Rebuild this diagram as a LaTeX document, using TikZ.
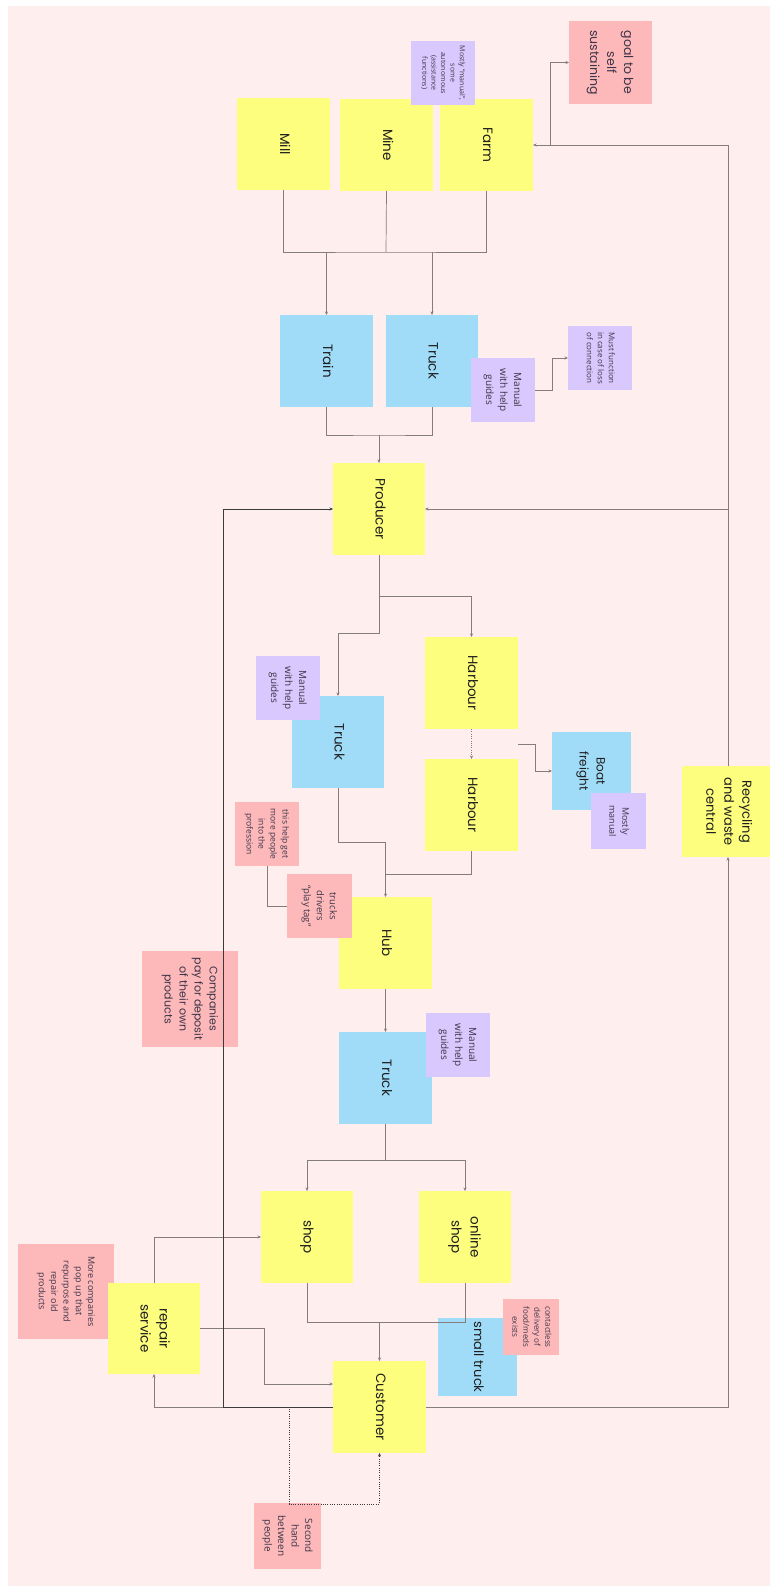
\documentclass[tikz,border=0pt]{standalone}
\usepackage{fontspec}
\setmainfont{Poppins}
\newfontfamily\notefont{Open Sans}
\usetikzlibrary{arrows.meta,calc}
\definecolor{bg}{HTML}{FEEEEE}
\definecolor{yel}{HTML}{FDFD7E}
\definecolor{blu}{HTML}{A0DCF8}
\definecolor{pnk}{HTML}{FDB9BA}
\definecolor{prp}{HTML}{D9C8FD}
\definecolor{lnc}{HTML}{857C7C}
\definecolor{dk}{HTML}{3A3A3A}
\definecolor{txt}{HTML}{1E1E1E}
\definecolor{ntxt}{HTML}{3C3448}
\newcommand{\rt}[3]{\rotatebox[origin=c]{-90}{\fontsize{#1}{#2}\selectfont\begin{tabular}{@{}c@{}}#3\end{tabular}}}
\begin{document}
\begin{tikzpicture}[x=1pt,y=-1pt,
  sticky/.style={inner sep=0pt,outer sep=0pt,text=txt},
  sz/.style 2 args={minimum width=#1pt,minimum height=#2pt},
  ybox/.style={sticky,fill=yel,sz={93}{92}},
  bbox/.style={sticky,fill=blu,sz={93}{92}},
  pnote/.style={sticky,fill=pnk,text=ntxt,font=\notefont},
  vnote/.style={sticky,fill=prp,text=ntxt,font=\notefont},
  ln/.style={draw=lnc,line width=0.7pt},
  arr/.style={ln,-{Stealth[length=3.5pt,width=3pt]}},
  dkarr/.style={draw=dk,line width=0.9pt,-{Stealth[length=3.5pt,width=3pt]}},
  dots/.style={draw=dk,line width=0.8pt,dash pattern=on 1pt off 1.3pt,-{Stealth[length=3.5pt,width=3pt]}},
]
\useasboundingbox (0,0) rectangle (770,1586);
\fill[bg] (8,6) rectangle (770,1586);

% ---- top row
\node[pnote,sz={83}{83},font=\rmfamily] (goal) at (610.5,62.5) {\rt{12.5}{17}{goal to be\\self\\sustaining}};
\node[ybox] (mill) at (283.5,144) {\rt{13.5}{17}{Mill}};
\node[ybox] (mine) at (386.5,145) {\rt{13.5}{17}{Mine}};
\node[ybox] (farm) at (486.5,145) {\rt{13.5}{17}{Farm}};
\node[vnote,sz={64}{64}] (assist) at (443,73) {\rt{7}{9.4}{Mostly “manual”,\\some\\autonomous\\(assistance\\functions)}};

% ---- transport 1
\node[bbox] (train) at (326.5,361) {\rt{13.5}{17}{Train}};
\node[bbox,sz={92}{92}] (truck1) at (432,361) {\rt{13.5}{17}{Truck}};
\node[vnote,sz={64}{64}] (manual1) at (503,390) {\rt{10}{14}{Manual\\with help\\guides}};
\node[vnote,sz={64}{64}] (must) at (600,358) {\rt{8}{11}{Must function\\in case of loss\\of connection}};

\node[ybox,sz={92}{92}] (producer) at (379,509) {\rt{13.5}{17}{Producer}};

% ---- middle
\node[ybox] (harbour1) at (471.5,683) {\rt{13.5}{17}{Harbour}};
\node[ybox] (harbour2) at (471.5,805) {\rt{13.5}{17}{Harbour}};
\node[bbox,sz={79}{78}] (boat) at (591.5,771) {\rt{12}{17}{Boat\\freight}};
\node[vnote,sz={55}{56}] (mostly) at (618.5,821) {\rt{9}{13}{Mostly\\manual}};
\node[bbox,sz={92}{92}] (truck2) at (338,742) {\rt{13.5}{17}{Truck}};
\node[vnote,sz={64}{64}] (manual2) at (288,688) {\rt{10}{14}{Manual\\with help\\guides}};
\node[ybox,sz={92}{91}] (recycling) at (728,811.5) {\rt{13}{18}{Recycling\\and waste\\central}};

\node[ybox] (hub) at (385.5,943) {\rt{13.5}{17}{Hub}};
\node[pnote,sz={64}{64}] (thishelp) at (267,834) {\rt{8.5}{12}{this help get\\more people\\into the\\profession}};
\node[pnote,sz={65}{64}] (drivers) at (319.5,906) {\rt{9.5}{13}{trucks\\drivers\\“play tag”}};
\node[pnote,sz={96}{96},font=\rmfamily] (companies) at (190,999) {\rt{11}{15}{Companies\\pay for deposit\\of their own\\products}};
\node[bbox] (truck3) at (385.5,1078) {\rt{13.5}{17}{Truck}};
\node[vnote,sz={64}{64}] (manual3) at (458,1045) {\rt{10}{14}{Manual\\with help\\guides}};

% ---- bottom
\node[ybox,sz={92}{92}] (shop) at (307,1237) {\rt{13.5}{17}{shop}};
\node[ybox,sz={92}{92}] (online) at (465,1237) {\rt{13.5}{19}{online\\shop}};
\node[pnote,sz={96}{95}] (morecomp) at (66,1291.5) {\rt{9}{12.3}{More companies\\pop up that\\repurpose and\\repair old\\products}};
\node[ybox,sz={92}{91}] (repair) at (154,1328.5) {\rt{13.5}{19}{repair\\service}};
\node[bbox,sz={79}{78}] (smalltruck) at (477.5,1357) {\rt{13}{17}{small truck}};
\node[pnote,sz={56}{56}] (contactless) at (531,1327) {\rt{8}{11}{contactless\\delivery of\\food/meds\\exists}};
\node[ybox] (customer) at (379.5,1407) {\rt{13.5}{17}{Customer}};
\node[pnote,sz={67}{66}] (second) at (287.5,1536) {\rt{10}{13.5}{Second\\hand\\between\\people}};

% ---- connectors
\coordinate (j1) at (386,252);
\draw[ln] (mill.south) |- (j1) -| (farm.south);
\draw[ln] (mine.south) -- (j1);
\draw[arr] (j1 -| train.north) -- (train.north);
\draw[arr] (j1 -| truck1.north) -- (truck1.north);

\coordinate (j2) at (379,435);
\draw[ln] (train.south) |- (j2) -| (truck1.south);
\draw[arr] (j2) -- (producer.north);
\draw[arr] (manual1.east) -- ++(17,0) |- (must.west);

\draw[arr] (recycling.north) -- (recycling.north |- farm.east) -- (farm.east);
\draw[arr] (recycling.north |- producer.east) -- (producer.east);
\coordinate (g1) at (550,145);
\draw[arr] (g1) |- (goal.west);

\draw[arr] (producer.south) -- ++(0,78) -| (truck2.north);
\coordinate (j3) at (379,596);
\draw[arr] (j3) -| (harbour1.north);
\draw[dots,draw=lnc] (harbour1.south) -- (harbour2.north);
\coordinate (hb) at (518,744);
\draw[arr] (hb) -- ++(17,0) |- (boat.west);

\coordinate (j4) at (385.5,842);
\draw[ln] (truck2.south) |- (j4);
\draw[arr] (j4) -- (hub.north);
\coordinate (j5) at (385.5,874);
\draw[ln] (harbour2.south) |- (j5);
\draw[ln] (drivers.west) -| (thishelp.south);

\draw[arr] (hub.south) -- (truck3.north);
\coordinate (j6) at (385.5,1160);
\draw[ln] (truck3.south) -- (j6);
\draw[arr] (j6) -| (shop.north);
\draw[arr] (j6) -| (online.north);
\coordinate (j7) at (379.5,1322);
\draw[ln] (shop.south) |- (j7) -| (online.south);
\draw[arr] (j7) -- (customer.north);

\draw[arr] (repair.north) |- (shop.west);
\draw[arr] (repair.east) -- ++(64,0) |- ($(customer.west)+(0,-23)$);
\draw[arr] (customer.west) -| (repair.south);
\draw[dkarr] (customer.west) -- ++(-110,0) |- (producer.west);
\draw[arr] (customer.east) -| (recycling.south);
\draw[dots] (customer.west) -- ++(-44,0) -- ++(0,97) -| (customer.south);
\end{tikzpicture}
\end{document}
